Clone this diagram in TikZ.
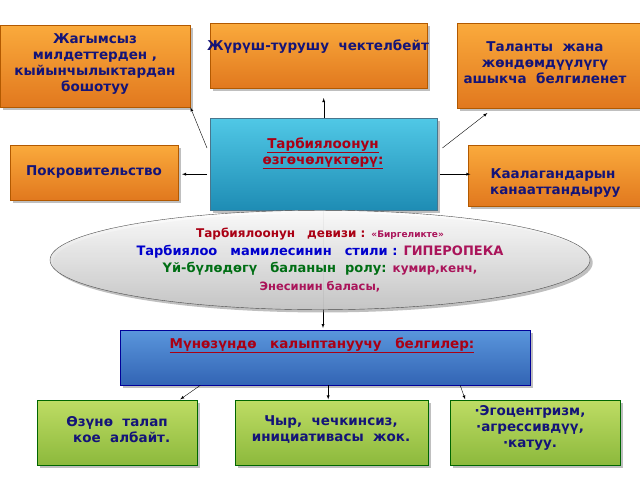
\documentclass[tikz,border=0pt]{standalone}
\usepackage{fontspec}
\setmainfont{DejaVu Sans}
\usetikzlibrary{shapes.geometric,shadows}
\definecolor{txtblue}{RGB}{20,20,120}
\definecolor{dred}{RGB}{170,0,20}
\definecolor{dmag}{RGB}{170,20,90}
\definecolor{dgreen}{RGB}{0,110,20}
\definecolor{orangetop}{RGB}{250,170,60}
\definecolor{orangebot}{RGB}{225,120,30}
\definecolor{cyantop}{RGB}{80,200,230}
\definecolor{cyanbot}{RGB}{30,140,180}
\definecolor{bluetop}{RGB}{90,150,220}
\definecolor{bluebot}{RGB}{50,100,180}
\definecolor{greentop}{RGB}{190,220,100}
\definecolor{greenbot}{RGB}{140,185,60}
\tikzset{
  orangebox/.style={draw=orange!70!black, top color=orangetop, bottom color=orangebot,
    drop shadow, anchor=north west},
  greenbox/.style={draw=green!40!black, top color=greentop, bottom color=greenbot,
    drop shadow, anchor=north west},
  boxtext/.style={text=txtblue, font=\bfseries\fontsize{13.5}{16}\selectfont, align=center},
  arr/.style={-latex, thin}
}
\begin{document}
\begin{tikzpicture}[x=1pt,y=-1pt]
  \useasboundingbox (0,0) rectangle (640,480);
  \fill[white] (0,0) rectangle (640,480);
  % vertical connector behind ellipse
  \draw[arr] (323,210) -- (323,328);
  \node[orangebox, minimum width=190, minimum height=82] (a) at (0,25) {};
  \node[boxtext, anchor=north] at (95,30) {Жагымсыз\\ милдеттерден ,\\ кыйынчылыктардан\\ бошотуу};
  \node[orangebox, minimum width=217, minimum height=65] (b) at (210,23) {};
  \node[boxtext, anchor=north] at (318,36) {Жүрүш-турушу\ \ чектелбейт};
  \node[orangebox, minimum width=183, minimum height=85] (c) at (457,23) {};
  \node[boxtext, anchor=north] at (545,38) {Таланты\ \ жана\\ жөндөмдүүлүгү\\ ашыкча\ \ белгиленет};
  \node[orangebox, minimum width=168, minimum height=55] (d) at (10,145) {};
  \node[boxtext, anchor=north] at (94,162) {Покровительство};
  \node[orangebox, minimum width=172, minimum height=61] (e) at (468,145) {};
  \node[boxtext, anchor=north] at (553,165) {Каалагандарын\\ \ канааттандыруу};
  \node[draw=cyan!50!black, top color=cyantop, bottom color=cyanbot, drop shadow,
    minimum width=227, minimum height=92, anchor=north west] (m) at (210,118) {};
  \node[boxtext, text=dred, anchor=north] at (323,134)
    {\underline{Тарбиялоонун}\\ \underline{өзгөчөлүктөрү:}};
  \node[ellipse, draw=gray!60!black, top color=white, bottom color=gray!45, drop shadow,
    minimum width=540, minimum height=86, fill opacity=0.92, text opacity=1,
    font=\bfseries\fontsize{13}{17.5}\selectfont, align=center] (el) at (320,260)
    {\textcolor{dred}{\fontsize{12}{17.5}\selectfont Тарбиялоонун\quad девизи :} \textcolor{dmag}{\fontsize{9}{10}\selectfont «Биргеликте»}\\
     \textcolor{blue!80!black}{Тарбиялоо\quad мамилесинин\quad стили :} \textcolor{dmag}{ГИПЕРОПЕКА}\\
     \textcolor{dgreen}{Үй-бүлөдөгү\quad баланын\ \ ролу:} \textcolor{dmag}{\fontsize{12}{17.5}\selectfont кумир,кенч,}\\
     \textcolor{dmag}{\fontsize{11.5}{14}\selectfont Энесинин баласы,}};
  \node[draw=blue!60!black, top color=bluetop, bottom color=bluebot, drop shadow,
    minimum width=410, minimum height=55, anchor=north west] (f) at (120,330) {};
  \node[boxtext, text=dred, anchor=north] at (322,334)
    {\underline{Мүнөзүндө\quad калыптануучу\quad белгилер:}};
  \node[greenbox, minimum width=160, minimum height=65] (g1) at (37,400) {};
  \node[boxtext] at (117,430) {Өзүнө\ \ талап\\ \ \ кое\ \ албайт.};
  \node[greenbox, minimum width=193, minimum height=65] (g2) at (235,400) {};
  \node[boxtext] at (331,430) {Чыр,\ \ чечкинсиз,\\ инициативасы\ \ жок.};
  \node[greenbox, minimum width=170, minimum height=65] (g3) at (450,400) {};
  \node[boxtext] at (530,428) {·Эгоцентризм,\\ ·агрессивдүү,\\ ·катуу.};
  % arrows
  \draw[arr] (m.north west)++(-3,30) -- (a.south east);
  \draw[arr] (m.north) -- ++(0,-20);
  \draw[arr] (m.north east)++(5,30) -- ++(45,-35);
  \draw[arr] (m.west)++(-3,10) -- ++(-25,0);
  \draw[arr] (m.east)++(3,10) -- ++(30,0);
  \draw[arr] (f.south)++(-125,0) -- ++(-20,14);
  \draw[arr] (f.south)++(3,0) -- ++(0,14);
  \draw[arr] (f.south)++(135,0) -- ++(5,14);
\end{tikzpicture}
\end{document}
